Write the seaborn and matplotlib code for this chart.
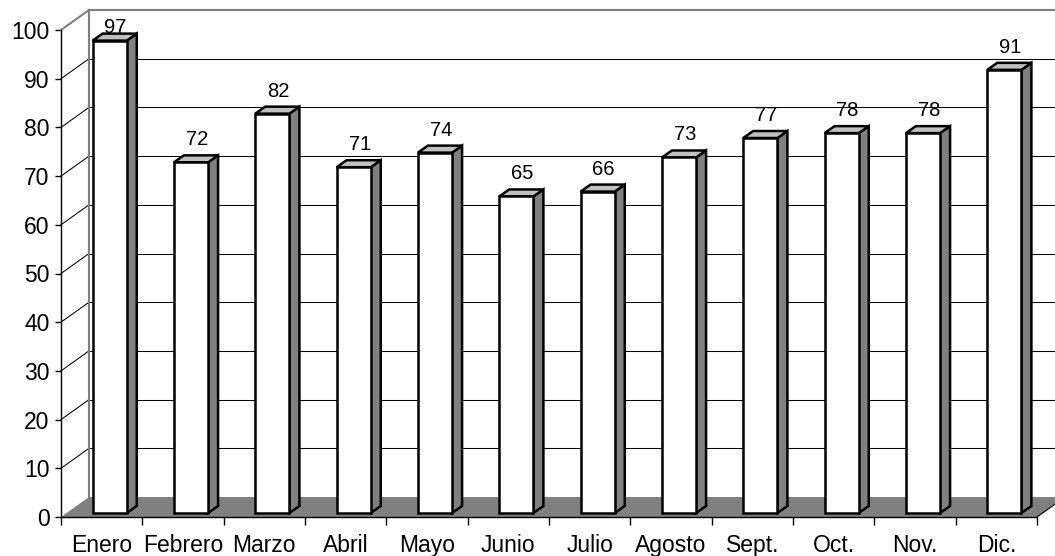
import numpy as np
import matplotlib
matplotlib.use("Agg")
import matplotlib.pyplot as plt
import seaborn as sns
from matplotlib.patches import Polygon
from matplotlib.transforms import Affine2D, IdentityTransform

months = ["Enero", "Febrero", "Marzo", "Abril", "Mayo", "Junio",
          "Julio", "Agosto", "Sept.", "Oct.", "Nov.", "Dic."]
values = [97, 72, 82, 71, 74, 65, 66, 73, 77, 78, 78, 91]
yticks = [0, 10, 20, 30, 40, 50, 60, 70, 80, 90, 100]

plt.rcParams["font.family"] = ["Liberation Sans", "DejaVu Sans"]

W, H = 1055, 556
fig = plt.figure(figsize=(W / 100, H / 100), dpi=100)
ax = fig.add_axes([61 / W, 39 / H, 976 / W, 487 / H])

sns.barplot(x=months, y=values, color="white", saturation=1, edgecolor="black",
            linewidth=1.8, width=0.42, errorbar=None, ax=ax, zorder=6)
bars = list(ax.patches)
ax.set_xlim(-0.5, 11.5)
ax.set_ylim(0, 100)
ax.set_xlabel("")
ax.set_ylabel("")

# pixel offsets for the pseudo-3D look
DXF, DYF = 8, 4      # bar front face offset from front plane
DXS, DYS = 10, 7     # bar depth
WX, WY = 28, 20      # wall depth
ID = IdentityTransform()


def D(x, v):
    return ax.transData.transform((x, v))


def line(p, q, **kw):
    ax.plot([p[0], q[0]], [p[1], q[1]], transform=ID, clip_on=False, **kw)


wall = np.array([WX, WY])
# floor
floor = [D(-0.5, 0), D(11.5, 0), D(11.5, 0) + wall, D(-0.5, 0) + wall]
ax.add_patch(Polygon(floor, closed=True, fc="#808080", ec="none",
                     transform=ID, clip_on=False, zorder=1))
line(D(11.5, 0), D(11.5, 0) + wall, color="black", lw=0.8, zorder=2)

# gridlines on back wall and side wall
for v in yticks[1:-1]:
    line(D(-0.5, v) + wall, D(11.5, v) + wall, color="black", lw=0.75, zorder=2)
    line(D(-0.5, v), D(-0.5, v) + wall, color="black", lw=0.75, zorder=2)
line(D(-0.5, 100), D(-0.5, 100) + wall, color="#808080", lw=1.5, zorder=2)
line(D(-0.5, 100) + wall, D(11.5, 100) + wall, color="#808080", lw=1.5, zorder=2)
line(D(-0.5, 0) + wall, D(-0.5, 100) + wall, color="#808080", lw=1.5, zorder=2)

border_y = D(0, 100)[1] + WY

for p, v in zip(bars, values):
    p.set_transform(ax.transData + Affine2D().translate(DXF, DYF))
    p.set_clip_on(False)
    x0, y0 = D(p.get_x(), 0) + (DXF, DYF)
    x1 = D(p.get_x() + p.get_width(), 0)[0] + DXF
    yt = D(0, p.get_height())[1] + DYF
    side = [(x1, y0), (x1, yt), (x1 + DXS, yt + DYS), (x1 + DXS, y0 + DYS)]
    top = [(x0, yt), (x1, yt), (x1 + DXS, yt + DYS), (x0 + DXS, yt + DYS)]
    ax.add_patch(Polygon(side, closed=True, fc="#808080", ec="black", lw=1.8,
                         joinstyle="miter", transform=ID, clip_on=False, zorder=5))
    ax.add_patch(Polygon(top, closed=True, fc="#C0C0C0", ec="black", lw=1.8,
                         joinstyle="miter", transform=ID, clip_on=False, zorder=5))
    by = min(yt + DYS + 10, border_y - 23)
    ax.text((x0 + x1) / 2 + 6, by, str(v), transform=ID, ha="center",
            va="baseline", fontsize=14.5, color="black", zorder=7)

ax.set_yticks(yticks)
ax.set_yticklabels([str(t) for t in yticks], fontsize=16.5)
ax.tick_params(axis="y", length=4.3, width=1, pad=4, direction="out", color="black")

ax.set_xticks(np.arange(-0.5, 12, 1))
ax.set_xticklabels([])
ax.set_xticks(np.arange(12), minor=True)
ax.set_xticklabels(months, minor=True, fontsize=16.5)
ax.tick_params(axis="x", which="major", length=6, width=1, direction="out", color="black")
ax.tick_params(axis="x", which="minor", length=0, pad=12)

for s in ["top", "right"]:
    ax.spines[s].set_visible(False)
for s in ["left", "bottom"]:
    ax.spines[s].set_color("black")
    ax.spines[s].set_linewidth(1)
    ax.spines[s].set_zorder(3)
ax.patch.set_facecolor("white")

fig.savefig("out.png", dpi=100)
